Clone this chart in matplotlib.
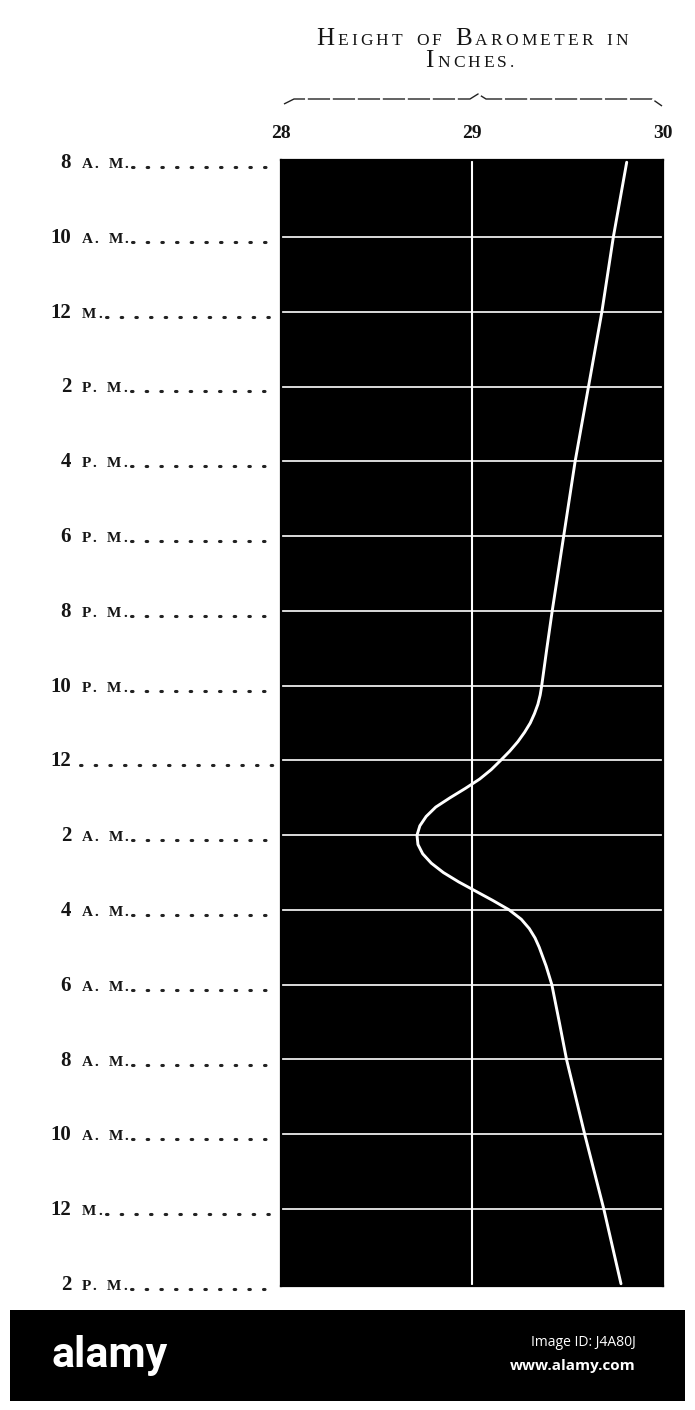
import matplotlib
matplotlib.use("Agg")
import matplotlib.pyplot as plt
from matplotlib.lines import Line2D
from matplotlib.patches import Rectangle

# ---- data -------------------------------------------------------------
# hours elapsed since 8 A.M. of the first day, and barometer height (inches)
hours = [0, 2, 4, 6, 8, 10, 12, 13, 14, 14.25, 14.5, 14.75, 15, 15.25, 15.5,
         15.75, 16, 16.25, 16.5, 16.75, 17, 17.25, 17.5, 17.75, 18, 18.25,
         18.5, 18.75, 19, 19.25, 19.5, 19.75, 20, 20.25, 20.5, 20.75, 21,
         21.5, 22, 23, 24, 26, 28, 30]
pressure = [29.81, 29.74, 29.68, 29.61, 29.54, 29.48, 29.42, 29.392, 29.365,
            29.357, 29.345, 29.327, 29.305, 29.275, 29.24, 29.198, 29.15,
            29.10, 29.04, 28.965, 28.885, 28.81, 28.76, 28.727, 28.712,
            28.717, 28.742, 28.787, 28.85, 28.93, 29.02, 29.11, 29.195,
            29.258, 29.30, 29.33, 29.352, 29.388, 29.418, 29.457, 29.495,
            29.59, 29.69, 29.78]
time_hours = [0, 2, 4, 6, 8, 10, 12, 14, 16, 18, 20, 22, 24, 26, 28, 30]
time_labels = ["8 A. M.", "10 A. M.", "12 M.", "2 P. M.", "4 P. M.", "6 P. M.",
               "8 P. M.", "10 P. M.", "12", "2 A. M.", "4 A. M.", "6 A. M.",
               "8 A. M.", "10 A. M.", "12 M.", "2 P. M."]
x_ticks = [28, 29, 30]
x_tick_labels = ["28", "29", "30"]

W, H = 695, 1410
fig = plt.figure(figsize=(W / 100, H / 100), dpi=100)
fig.patch.set_facecolor("white")
TSERIF = ["Liberation Serif", "DejaVu Serif"]
INK = "#151515"


def fx(px):
    return px / W


def fy(py):
    return 1 - py / H


ax_left, ax_right, ax_top, ax_bot = 281, 663, 160, 1286
ax = fig.add_axes([fx(ax_left), fy(ax_bot), fx(ax_right - ax_left),
                   (ax_bot - ax_top) / H])
ax.set_facecolor("black")
ax.set_xlim(28, 30)
ax.set_ylim(30.06, -0.06)
for t in time_hours[1:-1]:
    ax.axhline(t, color="white", lw=1.2, zorder=1)
ax.axvline(29, color="white", lw=1.5, zorder=1)
ax.plot(pressure, hours, color="white", lw=2.1, solid_capstyle="round",
        solid_joinstyle="round", zorder=3)
ax.set_xticks([])
ax.set_yticks([])
for s in ax.spines.values():
    s.set_color("black")
    s.set_linewidth(1.6)

renderer = fig.canvas.get_renderer()


def pieces_text(x_px, y_px, pieces, ha="left", color=INK, family=TSERIF,
                track=0.0, weight="normal", space=0.35):
    """Draw a row of (string, fontsize) pieces side by side (small caps)."""
    arts = []
    for s, size in pieces:
        t = fig.text(0, fy(y_px), s, fontsize=size, family=family,
                     color=color, va="baseline", ha="left", fontweight=weight)
        arts.append(t)
    widths = []
    for a, (s, size) in zip(arts, pieces):
        w = a.get_window_extent(renderer).width if s.strip() else size * space
        widths.append(w + track)
    total = sum(widths) - track
    if ha == "center":
        start = x_px - total / 2
    elif ha == "right":
        start = x_px - total
    else:
        start = x_px
    cur = start
    for a, w in zip(arts, widths):
        a.set_x(fx(cur))
        cur += w
    return start + total


def small_caps(word_list, big, small, gap=1.6):
    """Split words into per-character pieces: first letter big, rest small."""
    out = []
    for i, (w, cap) in enumerate(word_list):
        if i:
            out.append((" ", small * gap))
        for j, ch in enumerate(w):
            out.append((ch, big if (j == 0 and cap) else small))
    return out


# ---- x tick labels on top ----------------------------------------------
for v, lab in zip(x_ticks, x_tick_labels):
    xp = ax_left + (v - 28) / 2 * (ax_right - ax_left)
    fig.text(fx(xp), fy(134), lab, ha="center", va="center", fontsize=14,
             fontweight="bold", family=TSERIF, color=INK)

# ---- brace ---------------------------------------------------------------
bl, br, by = 284, 662, 99
mid = 478
fig.add_artist(Line2D([fx(bl), fx(bl + 10), fx(mid - 8), fx(mid), fx(mid + 8),
                       fx(br - 10), fx(br)],
                      [fy(by + 5), fy(by), fy(by), fy(by - 5), fy(by),
                       fy(by), fy(by + 7)],
                      color="#222222", lw=1.0, linestyle=(0, (16, 2))))

# ---- title --------------------------------------------------------------
pieces_text(472, 45, small_caps([("HEIGHT", True), ("OF", False),
                                 ("BAROMETER", True), ("IN", False)], 18, 12.5),
            ha="center", track=3.2)
pieces_text(470, 67, small_caps([("INCHES.", True)], 18, 12.5), ha="center",
            track=3.2)

# ---- row labels with leader dots ----------------------------------------
for t, lab in zip(time_hours, time_labels):
    yp = ax_top + 2 + t * (ax_bot - ax_top - 4) / 30
    parts = lab.split(" ", 1)
    num = parts[0]
    pieces = [(num, 15), (" ", 12)]
    if len(parts) > 1:
        for ch in parts[1]:
            pieces.append((ch, 11))
    m = fig.text(0, 0, num, fontsize=15, family=TSERIF, fontweight="bold")
    numw = m.get_window_extent(renderer).width
    m.remove()
    end = pieces_text(71 - numw, yp + 6, pieces, ha="left", weight="bold",
                      track=1.8, space=0.6)
    if len(parts) == 1:
        end -= 4
    fig.add_artist(Line2D([fx(end + 4), fx(276)], [fy(yp + 5), fy(yp + 5)],
                          color="#222222", lw=2.2, linestyle=(0, (0.5, 4.3)),
                          dash_capstyle="round"))

# ---- bottom band --------------------------------------------------------
fig.add_artist(Rectangle((fx(10), fy(1401)), fx(675), 91 / H,
                         transform=fig.transFigure, facecolor="black",
                         edgecolor="none"))
fig.text(fx(110), fy(1356), "alamy", ha="center", va="center", fontsize=31,
         fontweight="bold", color="white", family=["Roboto", "DejaVu Sans"],
         fontstretch="condensed")
fig.text(fx(636), fy(1342), "Image ID: J4A80J", ha="right", va="center",
         fontsize=10, color="white", family=["Open Sans", "DejaVu Sans"])
fig.text(fx(636), fy(1366), "www.alamy.com", ha="right", va="center",
         fontsize=11, fontweight="bold", color="white",
         family=["Open Sans", "DejaVu Sans"])

fig.savefig("out.png", dpi=100, facecolor="white")
